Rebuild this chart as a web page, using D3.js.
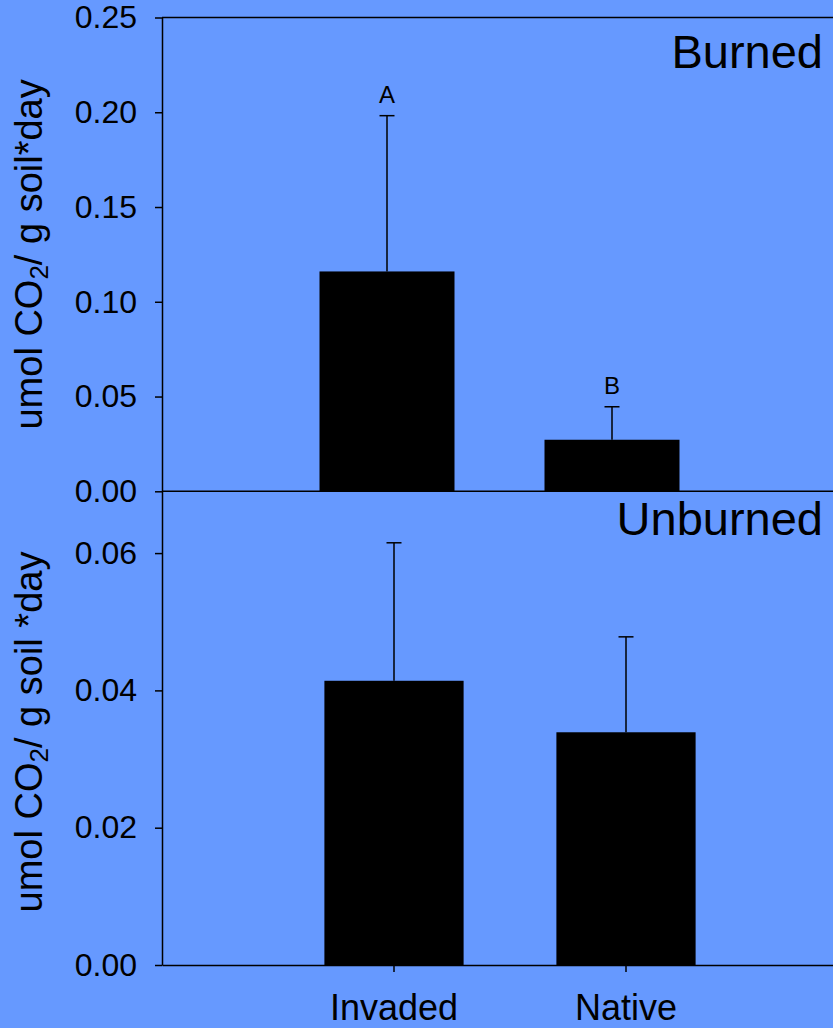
<!DOCTYPE html>
<html lang="en">
<head>
  <meta charset="UTF-8">
  <title>Soil respiration, burned vs unburned</title>
  <script src="https://d3js.org/d3.v7.min.js"></script>
  <style>
    html, body { margin: 0; padding: 0; background: #6699ff; }
    svg { display: block; font-family: "Liberation Sans", Arial, sans-serif; }
    .axis path, .axis line { stroke: #000; stroke-width: 1.5; }
    .axis text { fill: #000; }
  </style>
</head>
<body>
  <script>
    // values
    const categories = ["Invaded", "Native"];
    const burnedMean = [0.116, 0.0272];
    const burnedSE = [0.0822, 0.0174];
    const burnedLetters = ["A", "B"];
    const unburnedMean = [0.0414, 0.0339];
    const unburnedSE = [0.0201, 0.0139];
    const burnedTicks = [0, 0.05, 0.10, 0.15, 0.20, 0.25];
    const unburnedTicks = [0, 0.02, 0.04, 0.06];

    const width = 833, height = 1028;
    const left = 162;

    const svg = d3.select("body")
      .append("svg")
      .attr("width", width)
      .attr("height", height);

    svg.append("rect")
      .attr("width", width)
      .attr("height", height)
      .attr("fill", "#6699ff");

    // ---- top panel (Burned) ----
    const xTop = d3.scaleBand()
      .domain(categories)
      .range([left, 837])
      .paddingInner(0.4)
      .paddingOuter(0.7);

    const yTop = d3.scaleLinear()
      .domain([0, 0.25])
      .range([491.3, 17.5]);

    // ---- bottom panel (Unburned) ----
    const xBot = d3.scaleBand()
      .domain(categories)
      .range([left, 858])
      .paddingInner(0.4)
      .paddingOuter(0.7);

    const yBot = d3.scaleLinear()
      .domain([0, 0.069])
      .range([965, 491.3]);

    function drawBars(g, x, y, mean, se) {
      g.append("g")
        .selectAll("rect")
        .data(categories)
        .join("rect")
        .attr("x", d => x(d))
        .attr("width", x.bandwidth())
        .attr("y", (d, i) => y(mean[i]))
        .attr("height", (d, i) => y(0) - y(mean[i]))
        .attr("fill", "#000");

      const err = g.append("g")
        .attr("stroke", "#000")
        .attr("stroke-width", 1.5)
        .selectAll("g")
        .data(categories)
        .join("g");

      err.append("line")
        .attr("x1", d => x(d) + x.bandwidth() / 2)
        .attr("x2", d => x(d) + x.bandwidth() / 2)
        .attr("y1", (d, i) => y(mean[i]))
        .attr("y2", (d, i) => y(mean[i] + se[i]));

      err.append("line")
        .attr("x1", d => x(d) + x.bandwidth() / 2 - 7.5)
        .attr("x2", d => x(d) + x.bandwidth() / 2 + 7.5)
        .attr("y1", (d, i) => y(mean[i] + se[i]))
        .attr("y2", (d, i) => y(mean[i] + se[i]));
    }

    const topPanel = svg.append("g");
    drawBars(topPanel, xTop, yTop, burnedMean, burnedSE);

    topPanel.append("g")
      .selectAll("text")
      .data(categories)
      .join("text")
      .attr("x", d => xTop(d) + xTop.bandwidth() / 2)
      .attr("y", (d, i) => yTop(burnedMean[i] + burnedSE[i]) - 13)
      .attr("text-anchor", "middle")
      .attr("font-size", 24)
      .text((d, i) => burnedLetters[i]);

    // frame lines of the top panel
    topPanel.append("line")
      .attr("x1", left).attr("x2", xTop.range()[1])
      .attr("y1", yTop(0.25)).attr("y2", yTop(0.25))
      .attr("stroke", "#000").attr("stroke-width", 1.5);
    topPanel.append("line")
      .attr("x1", left).attr("x2", xTop.range()[1])
      .attr("y1", yTop(0)).attr("y2", yTop(0))
      .attr("stroke", "#000").attr("stroke-width", 1.5);

    topPanel.append("g")
      .attr("class", "axis")
      .attr("transform", `translate(${left},0)`)
      .call(d3.axisLeft(yTop)
        .tickValues(burnedTicks)
        .tickFormat(d3.format(".2f"))
        .tickSize(7)
        .tickSizeOuter(0)
        .tickPadding(18))
      .attr("font-size", 32)
      .attr("font-family", null);

    topPanel.append("text")
      .attr("transform", `translate(42,${(yTop(0) + yTop(0.25)) / 2}) rotate(-90)`)
      .attr("text-anchor", "middle")
      .attr("font-size", 38)
      .call(t => {
        t.append("tspan").text("umol CO");
        t.append("tspan").attr("font-size", 26).attr("dy", 6).text("2");
        t.append("tspan").attr("dy", -6).text("/ g soil*day");
      });

    topPanel.append("text")
      .attr("x", 823)
      .attr("y", 68)
      .attr("text-anchor", "end")
      .attr("font-size", 47)
      .text("Burned");

    // ---- bottom panel ----
    const botPanel = svg.append("g");
    drawBars(botPanel, xBot, yBot, unburnedMean, unburnedSE);

    botPanel.append("g")
      .attr("class", "axis")
      .attr("transform", `translate(${left},0)`)
      .call(d3.axisLeft(yBot)
        .tickValues(unburnedTicks)
        .tickFormat(d3.format(".2f"))
        .tickSize(7)
        .tickSizeOuter(0)
        .tickPadding(18))
      .attr("font-size", 32)
      .attr("font-family", null);

    botPanel.append("g")
      .attr("class", "axis")
      .attr("transform", `translate(0,${yBot(0)})`)
      .call(d3.axisBottom(xBot)
        .tickSize(7)
        .tickSizeOuter(0)
        .tickPadding(22))
      .attr("font-size", 36)
      .attr("font-family", null);

    botPanel.append("text")
      .attr("transform", `translate(42,732) rotate(-90)`)
      .attr("text-anchor", "middle")
      .attr("font-size", 38)
      .call(t => {
        t.append("tspan").text("umol CO");
        t.append("tspan").attr("font-size", 26).attr("dy", 6).text("2");
        t.append("tspan").attr("dy", -6).text("/ g soil *day");
      });

    botPanel.append("text")
      .attr("x", 823)
      .attr("y", 535)
      .attr("text-anchor", "end")
      .attr("font-size", 47)
      .text("Unburned");
  </script>
</body>
</html>
